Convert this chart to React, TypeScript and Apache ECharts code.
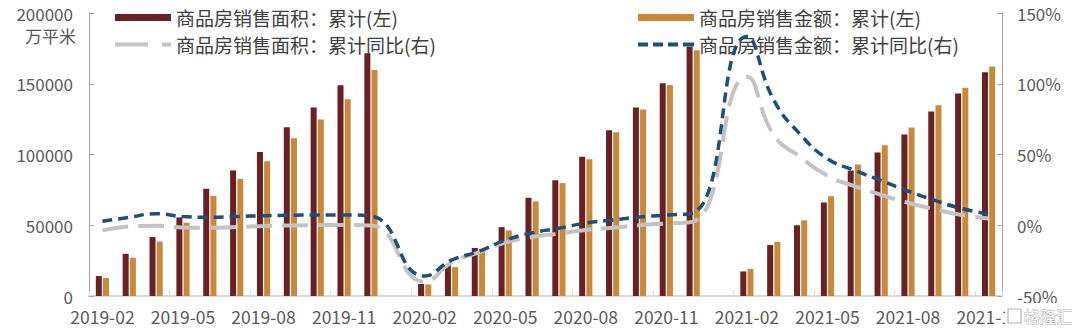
import React, { useEffect, useRef } from "react";
import * as echarts from "echarts";

const categories = [
  "2019-02", "2019-03", "2019-04", "2019-05", "2019-06", "2019-07", "2019-08", "2019-09", "2019-10", "2019-11", "2019-12",
  "2020-01", "2020-02", "2020-03", "2020-04", "2020-05", "2020-06", "2020-07", "2020-08", "2020-09", "2020-10", "2020-11", "2020-12",
  "2021-01", "2021-02", "2021-03", "2021-04", "2021-05", "2021-06", "2021-07", "2021-08", "2021-09", "2021-10", "2021-11",
];

// 商品房销售面积：累计 (万平米)
const areaCum = [
  14100, 29829, 41656, 55518, 75786, 88767, 101849, 119179, 133251, 148905, 171558,
  null, 8475, 21978, 33973, 48703, 69404, 81787, 98486, 117073, 133294, 150364, 176086,
  null, 17362, 36007, 49995, 66115, 88635, 101446, 114193, 130332, 143041, 158159,
];
// 商品房销售金额：累计
const amountCum = [
  12803, 27039, 38498, 51773, 70698, 82788, 95212, 111491, 124690, 139006, 159725,
  null, 8203, 20365, 33085, 46318, 66895, 79733, 96656, 115647, 131732, 149075, 173613,
  null, 19151, 38213, 53497, 70534, 92931, 106482, 119047, 134795, 147185, 162220,
];
// 商品房销售面积：累计同比 (%)
const areaYoY = [
  -3.6, -0.9, -0.3, -1.6, -1.8, -1.3, -0.6, -0.1, 0.1, 0.2, -0.1,
  null, -39.9, -26.3, -19.3, -12.3, -8.4, -5.8, -3.3, -1.8, 0.0, 1.3, 2.6,
  null, 104.9, 63.8, 48.1, 35.0, 27.7, 21.5, 15.9, 11.3, 7.3, 4.8,
];
// 商品房销售金额：累计同比 (%)
const amountYoY = [
  2.8, 5.6, 8.1, 6.1, 5.6, 6.2, 6.7, 7.1, 7.3, 7.3, 6.5,
  null, -35.9, -24.7, -18.6, -10.6, -5.4, -2.1, 1.6, 3.7, 5.8, 7.2, 8.7,
  null, 133.4, 88.5, 64.0, 47.0, 38.9, 31.5, 24.2, 17.6, 11.8, 8.0,
];

const seriesNames = [
  "商品房销售面积：累计(左)",
  "商品房销售金额：累计(左)",
  "商品房销售面积：累计同比(右)",
  "商品房销售金额：累计同比(右)",
];

const FONT = "'Noto Sans CJK SC', 'Noto Sans', sans-serif";

const grayIcon = "path://M0,0h33v4h-33z M47,0h9v4h-9z";
const blueIcon = "path://M0,0h10v4h-10z M15,0h10v4h-10z M30,0h10v4h-10z M45,0h11v4h-11z";

export default function App() {
  const ref = useRef<HTMLDivElement>(null);
  useEffect(() => {
    if (!ref.current) return;
    const chart = echarts.init(ref.current, null, { renderer: "svg" });
    const legendText = { color: "#404040", fontSize: 19, fontFamily: FONT, lineHeight: 19 };
    chart.setOption({
      animation: false,
      backgroundColor: "#ffffff",
      grid: { left: 89, right: 78, top: 13, bottom: 37, containLabel: false },
      legend: [
        {
          orient: "vertical",
          left: 115,
          top: 8,
          padding: 0,
          itemWidth: 56,
          itemHeight: 7,
          itemGap: 8,
          textStyle: legendText,
          data: [
            { name: seriesNames[0], icon: "rect" },
            { name: seriesNames[2], icon: grayIcon },
          ],
        },
        {
          orient: "vertical",
          left: 638,
          top: 8,
          padding: 0,
          itemWidth: 56,
          itemHeight: 7,
          itemGap: 8,
          textStyle: legendText,
          data: [
            { name: seriesNames[1], icon: "rect" },
            { name: seriesNames[3], icon: blueIcon },
          ],
        },
      ],
      xAxis: {
        type: "category",
        data: categories,
        boundaryGap: true,
        axisLine: { lineStyle: { color: "#d9d9d9", width: 2 } },
        axisTick: { show: true, inside: true, length: 5, interval: 2, lineStyle: { color: "#d9d9d9" } },
        axisLabel: { interval: 2, color: "#595959", fontSize: 17.5, fontFamily: FONT, margin: 12 },
        splitLine: { show: false },
      },
      yAxis: [
        {
          type: "value",
          min: 0,
          max: 200000,
          interval: 50000,
          axisLine: { show: true, lineStyle: { color: "#a6a6a6", width: 1 } },
          axisTick: { show: true, inside: true, length: 5, lineStyle: { color: "#a6a6a6" } },
          axisLabel: { color: "#595959", fontSize: 17, fontFamily: FONT, margin: 16, formatter: (v: number) => String(v) },
          splitLine: { show: false },
        },
        {
          type: "value",
          min: -50,
          max: 150,
          interval: 50,
          position: "right",
          axisLine: { show: true, lineStyle: { color: "#a6a6a6", width: 1 } },
          axisTick: { show: true, inside: true, length: 5, lineStyle: { color: "#a6a6a6" } },
          axisLabel: { color: "#595959", fontSize: 17, fontFamily: FONT, margin: 15, formatter: "{value}%" },
          splitLine: { show: false },
        },
      ],
      series: [
        {
          name: seriesNames[0],
          type: "bar",
          yAxisIndex: 0,
          data: areaCum,
          barWidth: 6,
          barGap: "20%",
          itemStyle: { color: "#6b2023" },
        },
        {
          name: seriesNames[1],
          type: "bar",
          yAxisIndex: 0,
          data: amountCum,
          barWidth: 6,
          barGap: "20%",
          itemStyle: { color: "#c8893a" },
        },
        {
          name: seriesNames[2],
          type: "line",
          yAxisIndex: 1,
          data: areaYoY,
          smooth: 0.5,
          connectNulls: true,
          symbol: "none",
          lineStyle: { color: "#c3c3c3", width: 4, type: [26, 10] },
          itemStyle: { color: "#c3c3c3" },
          z: 3,
        },
        {
          name: seriesNames[3],
          type: "line",
          yAxisIndex: 1,
          data: amountYoY,
          smooth: 0.5,
          connectNulls: true,
          symbol: "none",
          lineStyle: { color: "#1f4e79", width: 3.5, type: [10, 6] },
          itemStyle: { color: "#1f4e79" },
          z: 4,
        },
      ],
      graphic: [
        {
          type: "text",
          left: 25,
          top: 27,
          style: { text: "万平米", fill: "#595959", fontSize: 17, fontFamily: FONT },
        },
        {
          type: "rect",
          shape: { x: 1005, y: 303, width: 75, height: 30 },
          style: { fill: "#ffffff" },
          z: 100,
        },
        {
          type: "rect",
          shape: { x: 1008, y: 309, width: 13, height: 14 },
          style: { fill: "#ffffff", stroke: "#b5b5b5", lineWidth: 1.2 },
          z: 101,
        },
        {
          type: "text",
          x: 1024,
          y: 316,
          style: {
            text: "格隆汇",
            fill: "#ffffff",
            stroke: "#b0b0b0",
            lineWidth: 1,
            fontSize: 16,
            fontFamily: FONT,
            verticalAlign: "middle",
          },
          z: 101,
        },
      ],
    });
    return () => chart.dispose();
  }, []);
  return <div ref={ref} style={{ width: 1080, height: 333, margin: -8 }} />;
}
